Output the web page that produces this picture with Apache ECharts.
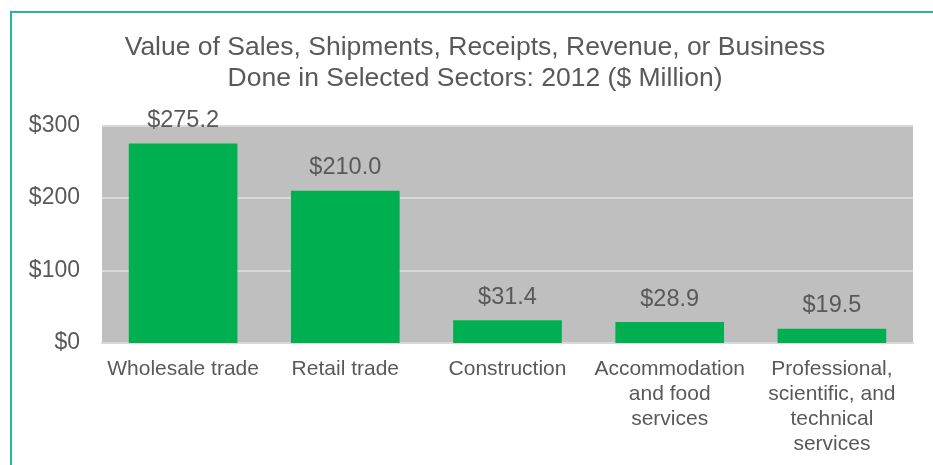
<!DOCTYPE html>
<html>
<head>
<meta charset="utf-8">
<script src="https://cdn.jsdelivr.net/npm/echarts@6/dist/echarts.min.js"></script>
<style>
  html, body { margin: 0; padding: 0; background: #fff; overflow: hidden; }
  .frame {
    position: absolute;
    left: 10px;
    top: 11px;
    width: 1000px;
    height: 1000px;
    border: 2px solid #2ab5a2;
  }
  #chart { position: absolute; left: 0; top: 0; width: 933px; height: 465px; }
</style>
</head>
<body>
<div class="frame"></div>
<div id="chart"></div>
<script>
// 数据
const categories = [
  'Wholesale trade',
  'Retail trade',
  'Construction',
  'Accommodation\nand food\nservices',
  'Professional,\nscientific, and\ntechnical\nservices'
];
const sales = [275.2, 210.0, 31.4, 28.9, 19.5];

const textColor = '#595959';
const font = 'Liberation Sans, Arial, sans-serif';

const chart = echarts.init(document.getElementById('chart'));
chart.setOption({
  animation: false,
  title: {
    text: 'Value of Sales, Shipments, Receipts, Revenue, or Business\nDone in Selected Sectors: 2012 ($ Million)',
    left: 475,
    top: 32,
    textAlign: 'center',
    padding: 0,
    textStyle: {
      fontFamily: font,
      fontSize: 26.5,
      fontWeight: 'normal',
      color: textColor,
      lineHeight: 31
    }
  },
  grid: {
    left: 102,
    right: 20,
    top: 125.5,
    bottom: 122,
    show: true,
    backgroundColor: '#bfbfbf',
    borderWidth: 0,
    containLabel: false
  },
  xAxis: {
    type: 'category',
    data: categories,
    axisTick: { show: false },
    axisLine: { lineStyle: { color: '#d9d9d9', width: 2 } },
    axisLabel: {
      interval: 0,
      margin: 14,
      fontFamily: font,
      fontSize: 21,
      lineHeight: 25,
      color: textColor,
      align: 'center'
    }
  },
  yAxis: {
    type: 'value',
    min: 0,
    max: 300,
    interval: 100,
    axisLine: { show: false },
    axisTick: { show: false },
    splitLine: { lineStyle: { color: '#d9d9d9', width: 2 } },
    axisLabel: {
      margin: 22,
      fontFamily: font,
      fontSize: 23,
      color: textColor,
      formatter: v => '$' + v
    }
  },
  series: [{
    type: 'bar',
    data: sales,
    barCategoryGap: '33%',
    itemStyle: { color: '#00b050' },
    label: {
      show: true,
      position: 'top',
      distance: 11,
      fontFamily: font,
      fontSize: 23.5,
      color: textColor,
      formatter: p => '$' + p.value.toFixed(1)
    }
  }]
});
</script>
</body>
</html>
